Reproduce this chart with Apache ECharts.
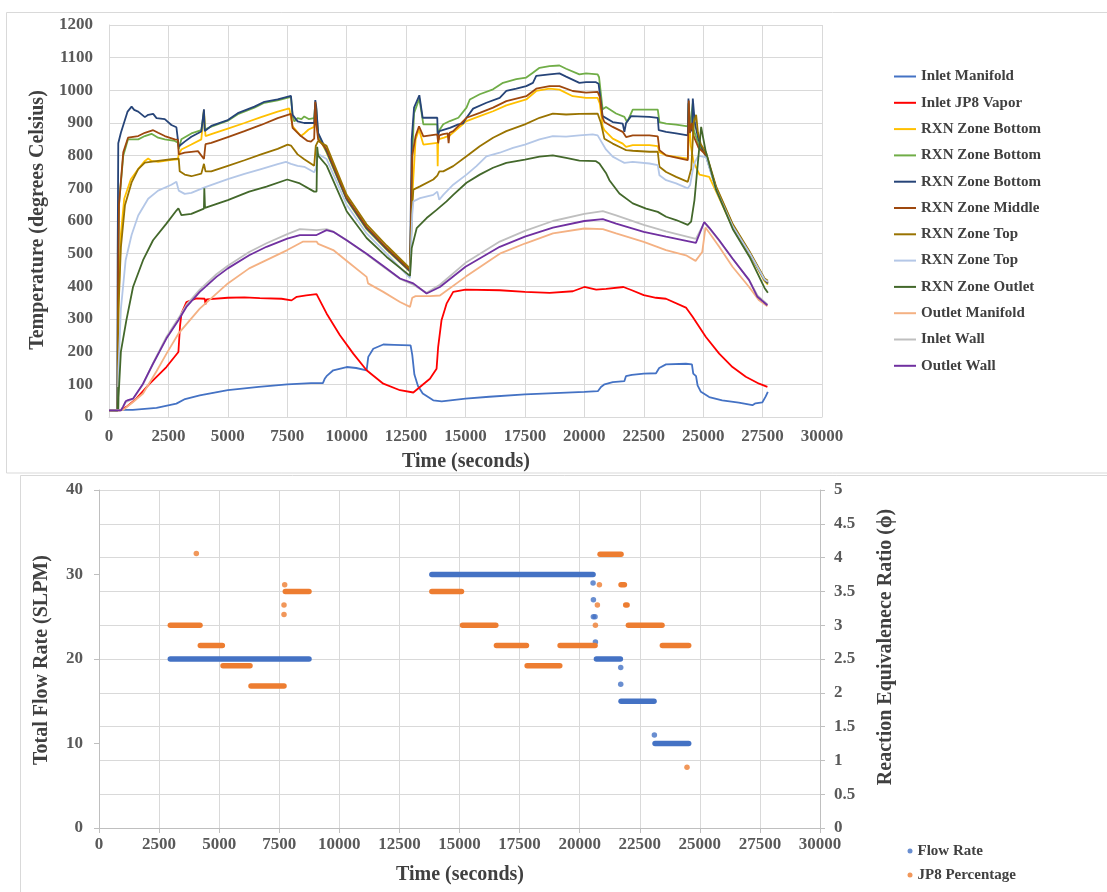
<!DOCTYPE html>
<html><head><meta charset="utf-8">
<script src="https://cdn.jsdelivr.net/npm/echarts@6/dist/echarts.min.js"></script>
<style>html,body{margin:0;padding:0;background:#fff}#c{width:1107px;height:892px}</style>
</head><body><div id="c"></div>
<script>
const FONT = '"Liberation Serif","Times New Roman",serif';
const TXT = '#404040', TICK = '#595959', GRID = '#D9D9D9';

// ---------- Top chart: temperatures [time s, deg C] ----------
const tempNames = ['Inlet Manifold','Inlet JP8 Vapor','RXN Zone Bottom','RXN Zone Bottom','RXN Zone Bottom','RXN Zone Middle','RXN Zone Top','RXN Zone Top','RXN Zone Outlet','Outlet Manifold','Inlet Wall','Outlet Wall'];
const tempColors = ['#4472C4','#FF0000','#FFC000','#70AD47','#264478','#9E480E','#997300','#B4C7E7','#43682B','#F4B183','#BFBFBF','#7030A0'];

const inletManifold = [[0,22],[1000,22],[2000,28],[2836,41],[3200,55],[3819,66],[5000,82],[6300,92],[7500,100],[8500,104],[9000,104],[9084,118],[9154,125],[9435,143],[10000,153],[10400,150],[10839,143],[10909,184],[11120,209],[11541,222],[12000,221],[12690,219],[12760,190],[12850,130],[13000,95],[13200,72],[13643,51],[14000,48],[15000,56],[16000,62],[17500,69],[19000,74],[20000,77],[20568,79],[20700,92],[20850,100],[21197,107],[21687,110],[21750,125],[22000,129],[22500,133],[23016,134],[23150,150],[23436,161],[24275,163],[24527,161],[24583,133],[24700,125],[24765,97],[24905,77],[25254,61],[25800,51],[26500,44],[27073,36],[27200,42],[27492,45],[27633,63],[27720,77]];
const inletJP8Vapor = [[0,20],[450,20],[730,31],[1150,56],[1713,102],[2415,153],[2920,199],[2990,280],[3050,317],[3257,352],[3678,363],[4029,362],[4060,345],[4110,360],[5000,365],[5700,366],[6346,364],[7259,362],[7680,357],[7900,368],[8300,372],[8733,376],[9154,317],[9716,250],[10277,194],[10839,143],[11541,102],[12243,82],[12804,75],[13083,92],[13503,117],[13783,148],[13850,215],[13990,296],[14203,347],[14482,383],[15000,390],[16441,388],[17500,383],[18540,380],[19519,385],[20000,398],[20500,390],[20917,392],[21645,398],[22000,388],[22500,373],[23016,365],[23436,362],[24275,335],[24555,307],[25115,245],[25674,194],[26234,153],[26793,123],[27353,102],[27703,92]];
const rxnBottomA = [[0,20],[370,20],[400,350],[500,560],[640,668],[920,728],[1229,759],[1509,784],[1648,791],[1788,784],[2067,781],[2626,787],[2900,789],[2934,804],[3045,819],[3465,834],[3884,850],[3995,940],[4060,860],[4303,866],[5000,883],[5700,900],[6398,918],[7097,935],[7586,945],[7656,950],[7725,890],[8075,860],[8214,868],[8400,880],[8633,888],[8680,955],[8720,920],[8800,860],[9154,810],[10000,665],[10839,575],[11681,512],[12664,445],[12700,443],[12780,700],[12900,850],[13044,880],[13226,834],[13813,839],[13830,768],[13850,850],[14100,855],[14343,862],[15042,906],[15600,921],[16159,936],[16718,954],[17557,972],[17976,998],[18534,1005],[18953,1002],[19512,982],[20071,977],[20560,977],[20650,960],[20770,890],[20843,878],[21194,852],[21615,837],[21756,827],[22037,832],[22739,832],[23090,829],[23160,811],[23441,801],[24353,791],[24423,898],[24480,830],[24600,780],[24845,742],[25254,735],[25547,690],[26249,580],[26951,498],[27583,416],[27723,405]];
const rxnBottomB = [[0,20],[360,20],[380,400],[420,650],[600,800],[800,850],[1229,850],[1509,860],[1788,867],[2067,855],[2347,850],[2766,845],[2900,840],[2934,820],[3045,850],[3465,868],[3884,878],[3995,935],[4030,880],[4303,889],[5000,907],[5420,927],[6119,947],[6538,962],[7097,969],[7656,980],[7700,980],[7725,920],[7800,905],[7935,915],[8100,912],[8214,920],[8400,912],[8633,915],[8680,960],[8720,945],[8800,865],[9154,812],[10000,666],[10839,576],[11681,513],[12664,446],[12700,444],[12760,800],[12835,930],[13058,975],[13226,896],[13813,896],[13830,870],[14064,896],[14343,906],[14700,916],[15042,947],[15182,972],[15600,988],[16159,1003],[16578,1023],[17137,1034],[17557,1039],[17836,1054],[18115,1069],[18534,1074],[18953,1076],[19233,1066],[19792,1049],[20071,1052],[20560,1049],[20620,1040],[20770,942],[20913,949],[21335,929],[21686,919],[21800,903],[22037,941],[22458,941],[23090,941],[23160,903],[23441,898],[23862,895],[24353,890],[24381,960],[24420,880],[24564,960],[24600,880],[24800,835],[25125,800],[25547,700],[26249,585],[26951,503],[27583,419],[27723,408]];
const rxnBottomC = [[0,20],[350,20],[365,500],[390,838],[500,870],[782,935],[950,950],[1060,940],[1229,935],[1509,918],[1650,925],[1858,928],[2000,915],[2347,912],[2626,894],[2836,887],[2934,828],[3185,843],[3465,858],[3884,874],[3960,880],[3995,942],[4030,875],[4303,891],[5000,909],[5420,930],[6119,950],[6538,965],[7097,972],[7656,983],[7700,983],[7725,925],[7935,905],[8214,900],[8633,900],[8680,970],[8720,950],[8800,870],[9154,815],[10000,668],[10839,578],[11681,515],[12664,447],[12700,445],[12737,850],[12835,947],[13058,985],[13198,916],[13813,916],[13830,860],[13900,875],[14343,885],[14700,896],[14900,899],[15042,916],[15321,944],[15880,962],[16439,977],[16718,998],[17137,1005],[17557,1013],[17836,1023],[17976,1044],[18534,1049],[18953,1052],[19233,1042],[19792,1023],[20071,1025],[20490,1025],[20600,1020],[20770,921],[20843,919],[21194,903],[21615,898],[21686,873],[21756,900],[21966,921],[22739,919],[23090,916],[23130,878],[23441,873],[23862,868],[24353,862],[24381,975],[24420,870],[24530,880],[24564,975],[24650,900],[24800,850],[25000,815],[25125,798],[25547,698],[26249,584],[26951,502],[27583,420],[27723,410]];
const rxnMiddle = [[0,20],[360,20],[380,400],[420,650],[600,810],[800,855],[1229,860],[1509,870],[1858,878],[2067,870],[2347,860],[2766,850],[2900,848],[2934,804],[3185,809],[3744,814],[3995,790],[4060,835],[4303,839],[5000,857],[5700,875],[6398,894],[7097,915],[7656,928],[7725,885],[8075,860],[8354,845],[8500,843],[8633,852],[8680,965],[8720,900],[8800,850],[9154,820],[10000,672],[10839,582],[11681,518],[12664,450],[12700,448],[12760,800],[12900,860],[13044,890],[13226,859],[13813,865],[13850,838],[13900,862],[14064,866],[14250,868],[14290,838],[14330,870],[14483,875],[15042,916],[15600,931],[16159,947],[16718,967],[17557,982],[17976,1005],[18534,1013],[18953,1013],[19512,998],[20071,993],[20560,995],[20650,980],[20770,916],[20843,903],[21194,888],[21615,873],[21756,857],[22037,862],[22739,862],[23090,859],[23160,817],[23441,801],[23862,794],[24353,786],[24395,969],[24440,870],[24520,900],[24600,860],[24800,825],[25125,802],[25547,702],[26249,587],[26951,504],[27583,421],[27723,412]];
const rxnTopA = [[0,20],[370,20],[400,330],[500,520],[671,648],[950,718],[1229,759],[1509,779],[2067,784],[2626,789],[2934,791],[2975,752],[3185,742],[3465,737],[3884,745],[3995,775],[4060,752],[4303,752],[5000,769],[5700,786],[6398,804],[7097,821],[7516,834],[7656,831],[7935,804],[8214,789],[8633,769],[8700,830],[8800,845],[9154,830],[10000,680],[10839,590],[11681,525],[12664,455],[12700,453],[12760,650],[12807,696],[13086,706],[13645,727],[13813,739],[13900,752],[14064,752],[14483,768],[15042,798],[15600,829],[16159,855],[16718,875],[17500,896],[18115,916],[18674,929],[19233,926],[19792,928],[20560,929],[20700,900],[20843,852],[21194,837],[21615,822],[21756,817],[22037,815],[22739,812],[23090,812],[23160,766],[23441,750],[23862,735],[24353,720],[24500,760],[24600,900],[24704,925],[24780,870],[24900,835],[25125,808],[25547,705],[26249,590],[26951,507],[27583,424],[27723,417]];
const rxnTopB = [[0,20],[370,20],[400,150],[500,330],[700,480],[950,557],[1229,617],[1648,668],[2067,693],[2626,711],[2836,720],[2934,693],[3185,683],[3465,686],[4023,703],[5000,728],[5700,744],[6398,759],[7097,774],[7446,781],[7656,775],[7935,769],[8214,766],[8633,749],[8700,760],[8800,805],[9154,790],[10000,650],[10839,562],[11681,500],[12664,425],[12700,424],[12760,620],[12807,660],[13086,670],[13645,680],[13813,690],[13896,665],[14064,680],[14483,711],[15042,742],[15460,768],[15880,798],[16439,809],[16998,824],[17500,834],[18115,850],[18674,860],[19233,858],[19792,862],[20351,865],[20560,862],[20909,819],[21194,797],[21475,786],[21686,778],[22037,781],[22739,776],[23090,771],[23160,740],[23441,725],[23862,715],[24353,700],[24450,710],[24560,755],[24650,780],[24800,800],[25125,795],[25547,695],[26249,583],[26951,502],[27583,421],[27723,414]];
const rxnOutlet = [[0,20],[370,20],[385,92],[390,20],[400,60],[500,200],[730,296],[1011,398],[1432,480],[1853,541],[2415,592],[2836,632],[2920,639],[3047,618],[3465,622],[3995,638],[4010,700],[4040,640],[5000,664],[5898,690],[6627,705],[7500,727],[8031,715],[8633,690],[8733,690],[8760,827],[8800,800],[9154,770],[10000,630],[10839,548],[11681,490],[12664,432],[12700,430],[12737,517],[12946,578],[13364,609],[13784,634],[14203,660],[14483,680],[15042,717],[15600,742],[16159,763],[16718,778],[17500,788],[18115,797],[18674,801],[19233,793],[19792,785],[20490,783],[20633,776],[20909,747],[21054,725],[21475,684],[22037,654],[22598,638],[23090,628],[23441,613],[23862,603],[24353,588],[24494,598],[24634,664],[24775,776],[24915,888],[24960,870],[25097,817],[25547,695],[26249,575],[26951,490],[27583,395],[27723,380]];
const outletManifold = [[0,20],[600,22],[1000,45],[1432,72],[2000,140],[2420,194],[2920,255],[3819,332],[5000,409],[5898,455],[7500,511],[8170,537],[8733,537],[8800,530],[9435,511],[10137,470],[10839,429],[10900,409],[11541,383],[12243,352],[12664,337],[12760,365],[12900,370],[13500,370],[13923,372],[15000,429],[16441,500],[17500,531],[18679,562],[20000,577],[20778,575],[21337,562],[22500,536],[23436,511],[24275,495],[24682,478],[24960,505],[25097,580],[25250,565],[25674,521],[26234,460],[26933,398],[27353,357],[27703,339]];
const inletWall = [[0,20],[500,20],[700,45],[1011,55],[1432,100],[1853,165],[2415,245],[2920,302],[3257,343],[3819,390],[4521,437],[5000,463],[5898,505],[6627,532],[7500,560],[8031,575],[8733,572],[9154,575],[9435,568],[10000,541],[10839,498],[11541,460],[12243,423],[12804,405],[13363,380],[13923,405],[15000,472],[16441,537],[17500,570],[18679,600],[20000,622],[20778,630],[21337,617],[22500,588],[23436,568],[24695,545],[25045,595],[25250,578],[25674,540],[26234,485],[26933,420],[27283,372],[27703,345]];
const outletWall = [[0,20],[500,20],[590,31],[700,48],[800,52],[1011,56],[1432,102],[1853,163],[2415,240],[2920,296],[3257,337],[3819,383],[4521,429],[5000,455],[5898,495],[6627,521],[7500,546],[8031,557],[8733,557],[9154,572],[9435,567],[10000,541],[10839,500],[11541,462],[12243,424],[12804,409],[13363,378],[13923,398],[15000,460],[16441,521],[17500,552],[18679,580],[20000,600],[20778,606],[21337,592],[22500,567],[23436,552],[24695,533],[25045,597],[25250,580],[25674,541],[26234,485],[26933,419],[27283,368],[27703,342]];
const tempData = [inletManifold,inletJP8Vapor,rxnBottomA,rxnBottomB,rxnBottomC,rxnMiddle,rxnTopA,rxnTopB,rxnOutlet,outletManifold,inletWall,outletWall];

// ---------- Bottom chart ----------
// runs of densely packed samples: [startTime, endTime, value]
const flowRuns = [[2968,8738,20],[13850,20558,30],[20697,21694,20],[21722,23094,15],[23136,24536,10]];
const flowSingles = [[20558,29],[20572,27],[20570,25],[20640,25],[20655,22],[21708,19],[21708,17],[23108,11]];
const jp8Runs = [[2968,4203,3.0],[4216,5132,2.7],[5160,6283,2.4],[6325,7698,2.1],[7753,8738,3.5],[13850,15083,3.5],[15125,16511,3.0],[16538,17786,2.7],[17814,19172,2.4],[19186,20641,2.7],[20849,21722,4.05],[21722,21861,3.6],[21916,21972,3.3],[22027,23427,3.0],[23441,24536,2.7]];
const jp8Singles = [[4050,4.06],[7698,3.16],[7698,3.3],[7726,3.6],[20655,3.0],[20738,3.3],[20821,3.6],[24466,0.9]];

const timeMax = 30000, timeStep = 2500;

const series = [];
tempData.forEach((d,i)=>{
  series.push({type:'line', name: tempNames[i]+'#'+i, data:d, xAxisIndex:0, yAxisIndex:0,
    symbol:'none', showSymbol:false, color: tempColors[i], lineStyle:{width:1.8, color: tempColors[i]}, z: 2+i, animation:false});
});
const runSeries = (runs, name, color, yIdx) => runs.forEach(r=>{
  series.push({type:'line', name, data:[[r[0],r[2]],[r[1],r[2]]], xAxisIndex:1, yAxisIndex:yIdx,
    symbol:'none', color, lineStyle:{width:5.5, color, cap:'round'}, animation:false});
});
series.push({type:'scatter', name:'Flow Rate', data:flowSingles, xAxisIndex:1, yAxisIndex:1, symbolSize:5.5, itemStyle:{color:'#4472C4'}, animation:false});
series.push({type:'scatter', name:'JP8 Percentage', data:jp8Singles, xAxisIndex:1, yAxisIndex:2, symbolSize:5.5, itemStyle:{color:'#ED7D31'}, animation:false});
runSeries(flowRuns, 'Flow Rate', '#4472C4', 1);
runSeries(jp8Runs, 'JP8 Percentage', '#ED7D31', 2);

const tickLbl = (m) => ({color:TICK, fontFamily:FONT, fontWeight:'bold', fontSize:17, margin:m, formatter:v=>String(v)});

const option = {
  backgroundColor:'#fff',
  animation:false,
  grid:[{left:109, top:25, width:713, height:392},{left:99, top:490, width:721, height:338}],
  xAxis:[
    {type:'value', gridIndex:0, min:0, max:timeMax, interval:timeStep, axisLine:{show:true,lineStyle:{color:GRID}}, axisTick:{show:false}, splitLine:{show:true,lineStyle:{color:GRID}}, axisLabel:tickLbl(11)},
    {type:'value', gridIndex:1, min:0, max:timeMax, interval:timeStep, axisLine:{show:true,lineStyle:{color:'#BFBFBF'}}, axisTick:{show:true,length:5,lineStyle:{color:'#BFBFBF'}}, splitLine:{show:true,lineStyle:{color:GRID}}, axisLabel:tickLbl(8)}
  ],
  yAxis:[
    {type:'value', gridIndex:0, min:0, max:1200, interval:100, axisLine:{show:true,lineStyle:{color:GRID}}, axisTick:{show:false}, splitLine:{show:true,lineStyle:{color:GRID}}, axisLabel:tickLbl(16)},
    {type:'value', gridIndex:1, min:0, max:40, interval:10, position:'left', axisLine:{show:true,lineStyle:{color:'#BFBFBF'}}, axisTick:{show:true,length:5,lineStyle:{color:'#BFBFBF'}}, splitLine:{show:false}, axisLabel:tickLbl(16)},
    {type:'value', gridIndex:1, min:0, max:5, interval:0.5, position:'right', axisLine:{show:true,lineStyle:{color:'#BFBFBF'}}, axisTick:{show:true,length:5,lineStyle:{color:'#BFBFBF'}}, splitLine:{show:true,lineStyle:{color:GRID}}, axisLabel:tickLbl(14)}
  ],
  legend:[
    {orient:'vertical', left:894, top:69, padding:0, icon:'rect', itemWidth:22, itemHeight:2, itemGap:11.3,
     data: tempNames.map((n,i)=>n+'#'+i), formatter: n=>n.split('#')[0],
     textStyle:{color:TXT, fontFamily:FONT, fontWeight:'bold', fontSize:15, lineHeight:14}},
    {orient:'vertical', left:907.5, top:843.5, padding:0, itemWidth:5, itemHeight:5, itemGap:9,
     data:[{name:'Flow Rate',icon:'circle'},{name:'JP8 Percentage',icon:'circle'}],
     textStyle:{color:TXT, fontFamily:FONT, fontWeight:'bold', fontSize:15, lineHeight:15}}
  ],
  graphic:[
    {type:'rect', shape:{x:6.5,y:12.5,width:1110,height:460.5}, style:{fill:'none',stroke:GRID,lineWidth:1}, silent:true, z:-10},
    {type:'rect', shape:{x:20.5,y:475.5,width:1100,height:430}, style:{fill:'none',stroke:GRID,lineWidth:1}, silent:true, z:-10},
    {type:'text', x:38, y:220, rotation:Math.PI/2, style:{text:'Temperature (degrees Celsius)', fill:TXT, font:'bold 20px '+FONT, textAlign:'center', textVerticalAlign:'middle', align:'center', verticalAlign:'middle'}},
    {type:'text', x:466, y:462, style:{text:'Time (seconds)', fill:TXT, font:'bold 20px '+FONT, textAlign:'center', textVerticalAlign:'middle', align:'center', verticalAlign:'middle'}},
    {type:'text', x:42, y:660, rotation:Math.PI/2, style:{text:'Total Flow Rate (SLPM)', fill:TXT, font:'bold 20px '+FONT, textAlign:'center', textVerticalAlign:'middle', align:'center', verticalAlign:'middle'}},
    {type:'text', x:886, y:647, rotation:Math.PI/2, style:{text:'Reaction Equivalenece Ratio (\u03D5)', fill:TXT, font:'bold 20px '+FONT, textAlign:'center', textVerticalAlign:'middle', align:'center', verticalAlign:'middle'}},
    {type:'text', x:460, y:875, style:{text:'Time (seconds)', fill:TXT, font:'bold 20px '+FONT, textAlign:'center', textVerticalAlign:'middle', align:'center', verticalAlign:'middle'}}
  ],
  series
};
const chart = echarts.init(document.getElementById('c'), null, {renderer:'canvas'});
chart.setOption(option);
</script></body></html>
